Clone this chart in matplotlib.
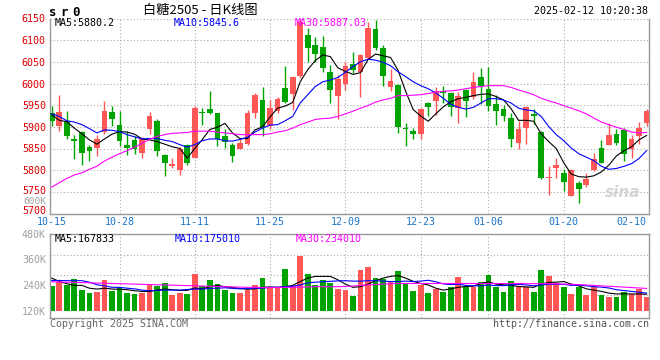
import numpy as np
import matplotlib
matplotlib.use("Agg")
import matplotlib.pyplot as plt
import matplotlib.transforms as mtrans

# ---- data (SR505) ----
date_labels = ["10-15", "10-28", "11-11", "11-25", "12-09", "12-23", "01-06", "01-20", "02-10"]
date_idx = [0, 9, 19, 29, 39, 49, 58, 68, 77]

opens = [5931, 5901, 5913, 5873, 5887, 5853, 5852, 5888, 5934, 5905,
         5857, 5870, 5839, 5896, 5913, 5836, 5809, 5800, 5859, 5827,
         5933, 5941, 5932, 5880, 5857, 5849, 5861, 5931, 5962, 5903,
         5936, 5989, 5975, 6017, 6111, 6089, 6084, 6026, 5972, 6000,
         6046, 6026, 6058, 6125, 6082, 5991, 5997, 5897, 5891, 5884,
         5955, 5959, 5983, 5978, 5943, 5985, 5969, 6014, 5988, 5952,
         5941, 5920, 5862, 5897, 5930, 5888, 5781, 5805, 5793, 5741,
         5771, 5766, 5800, 5851, 5859, 5884, 5893, 5848, 5878, 5910]
closes = [5913, 5934, 5878, 5867, 5839, 5844, 5871, 5937, 5919, 5868,
          5852, 5848, 5871, 5924, 5844, 5816, 5815, 5848, 5816, 5943,
          5932, 5931, 5873, 5864, 5832, 5863, 5933, 5974, 5900, 5943,
          5965, 5957, 6015, 6141, 6082, 6067, 6035, 5985, 6011, 6041,
          6031, 6066, 6127, 6082, 6018, 6006, 5899, 5894, 5884, 5942,
          5945, 5983, 5978, 5945, 5972, 5960, 6004, 5995, 5947, 5936,
          5926, 5872, 5894, 5946, 5926, 5781, 5784, 5811, 5773, 5800,
          5757, 5779, 5826, 5817, 5880, 5862, 5838, 5873, 5897, 5937]
highs = [5949, 5974, 5937, 5882, 5891, 5858, 5882, 5960, 5949, 5936,
         5891, 5878, 5877, 5934, 5919, 5838, 5828, 5853, 5861, 5949,
         5943, 5983, 5933, 5894, 5863, 5871, 5938, 5978, 5993, 5962,
         5970, 6041, 6018, 6150, 6127, 6108, 6110, 6043, 6020, 6050,
         6072, 6069, 6141, 6146, 6090, 6033, 5998, 5910, 5897, 5943,
         5957, 5991, 5995, 5980, 5980, 5988, 6027, 6035, 6039, 5974,
         5951, 5932, 5913, 5948, 5941, 5890, 5809, 5827, 5802, 5802,
         5775, 5794, 5840, 5870, 5909, 5894, 5897, 5882, 5911, 5942]
lows = [5901, 5891, 5871, 5825, 5812, 5822, 5832, 5884, 5901, 5855,
        5836, 5838, 5827, 5884, 5832, 5787, 5804, 5790, 5812, 5827,
        5905, 5930, 5855, 5851, 5819, 5848, 5859, 5920, 5878, 5894,
        5932, 5955, 5939, 6012, 6050, 6050, 6027, 5955, 5919, 5985,
        6024, 5970, 6056, 6077, 5995, 5983, 5885, 5855, 5871, 5873,
        5924, 5928, 5955, 5924, 5909, 5922, 5965, 5952, 5936, 5905,
        5913, 5853, 5848, 5861, 5907, 5779, 5743, 5781, 5752, 5741,
        5725, 5761, 5798, 5816, 5858, 5858, 5821, 5829, 5861, 5901]

ma5 = [5928, 5915, 5912, 5897, 5884, 5870, 5860, 5872, 5883, 5889,
       5888, 5883, 5872, 5870, 5866, 5860, 5854, 5850, 5828, 5850,
       5871, 5894, 5899, 5908, 5886, 5873, 5873, 5893, 5900, 5923,
       5943, 5948, 5956, 6004, 6032, 6053, 6066, 6062, 6036, 6028,
       6021, 6025, 6055, 6068, 6064, 6060, 6030, 5982, 5940, 5925,
       5913, 5930, 5946, 5958, 5965, 5968, 5972, 5975, 5976, 5970,
       5962, 5942, 5915, 5915, 5913, 5884, 5866, 5850, 5817, 5791,
       5785, 5784, 5787, 5796, 5812, 5833, 5845, 5854, 5870, 5880]
ma10 = [5930, 5924, 5914, 5911, 5905, 5896, 5886, 5893, 5892, 5889,
        5882, 5877, 5872, 5873, 5873, 5869, 5866, 5859, 5853, 5859,
        5868, 5872, 5872, 5868, 5867, 5871, 5876, 5888, 5897, 5904,
        5905, 5914, 5924, 5955, 5974, 5993, 6004, 6008, 6014, 6026,
        6039, 6050, 6056, 6054, 6049, 6041, 6027, 6016, 6004, 5995,
        5988, 5978, 5966, 5952, 5945, 5941, 5945, 5955, 5965, 5965,
        5962, 5955, 5943, 5939, 5937, 5924, 5901, 5882, 5868, 5851,
        5838, 5830, 5822, 5809, 5802, 5804, 5809, 5815, 5827, 5845]
ma30 = [5761, 5771, 5781, 5789, 5794, 5802, 5809, 5821, 5830, 5838,
        5845, 5853, 5862, 5871, 5878, 5882, 5885, 5886, 5887, 5890,
        5890, 5890, 5888, 5886, 5884, 5882, 5882, 5882, 5882, 5884,
        5888, 5891, 5897, 5905, 5911, 5917, 5919, 5920, 5924, 5930,
        5936, 5943, 5949, 5957, 5962, 5966, 5972, 5972, 5973, 5974,
        5977, 5980, 5982, 5983, 5985, 5988, 5991, 5993, 5995, 5995,
        5995, 5991, 5985, 5980, 5974, 5966, 5960, 5955, 5949, 5943,
        5937, 5930, 5920, 5911, 5905, 5899, 5894, 5888, 5886, 5887]

# volume in thousands
volumes = [236, 252, 241, 267, 218, 202, 208, 263, 213, 230,
           202, 198, 201, 244, 235, 249, 193, 202, 198, 292,
           233, 263, 244, 218, 202, 202, 218, 239, 272, 225,
           225, 314, 233, 374, 291, 239, 263, 249, 221, 215,
           188, 309, 323, 272, 267, 252, 304, 249, 211, 239,
           202, 221, 208, 230, 277, 229, 229, 253, 286, 230,
           207, 258, 230, 230, 207, 309, 283, 249, 230, 198,
           230, 193, 230, 193, 184, 184, 207, 198, 221, 185]
vol_ma5 = [272, 256, 246, 238, 238, 225, 221, 225, 221, 220,
           218, 213, 210, 210, 216, 221, 218, 215, 215, 226,
           222, 232, 238, 232, 228, 224, 220, 222, 229, 231,
           229, 232, 238, 256, 272, 280, 280, 280, 264, 244,
           229, 232, 244, 260, 272, 280, 284, 272, 257, 247,
           240, 225, 216, 222, 229, 233, 235, 247, 255, 244,
           241, 238, 233, 231, 229, 244, 252, 253, 256, 244,
           236, 222, 216, 210, 202, 198, 199, 198, 198, 197]
vol_ma10 = [261, 261, 260, 260, 260, 253, 241, 236, 229, 229,
            225, 222, 216, 213, 215, 216, 216, 216, 219, 221,
            221, 224, 225, 227, 224, 222, 224, 225, 225, 229,
            229, 232, 234, 240, 250, 253, 255, 257, 259, 260,
            258, 258, 260, 260, 258, 256, 256, 258, 256, 258,
            262, 255, 245, 242, 243, 238, 236, 236, 240, 237,
            237, 240, 243, 240, 236, 240, 243, 243, 243, 238,
            240, 236, 232, 230, 226, 218, 214, 210, 206, 202]
vol_ma30 = [255, 254, 253, 252, 251, 250, 249, 248, 247, 246,
            245, 244, 243, 242, 241, 240, 239, 238, 237, 236,
            235, 234, 233, 232, 231, 230, 229, 229, 228, 228,
            228, 229, 229, 230, 231, 232, 232, 232, 232, 233,
            235, 238, 240, 242, 244, 246, 247, 247, 247, 247,
            247, 247, 247, 247, 247, 247, 247, 247, 247, 247,
            247, 247, 247, 246, 246, 246, 246, 245, 244, 243,
            242, 240, 238, 236, 234, 232, 230, 228, 226, 224]

price_ticks = list(range(5700, 6151, 50))
vol_ticks = [120, 240, 360, 480]
VOL_BASE = 120  # bars in the sina panel start at the 120K line

RED = "#ff5656"
GREEN = "#00a400"
GRID = "#aaaaaa"
BORDER = "#999999"
MONO = "DejaVu Sans Mono"
FS = 7.2

W, H = 660, 360


def box(l, t, r, b):
    # pixel box -> figure fraction rect
    return [l / W, 1 - b / H, (r - l) / W, (b - t) / H]


def fxy(x, y):
    return x / W, 1 - y / H


x = np.arange(len(closes))
o = np.array(opens, float)
c = np.array(closes, float)
up = c >= o
colors = np.where(up, RED, GREEN)
xlim = (-0.23, 79.32)
dotted = dict(color=GRID, lw=0.8, linestyle=(0, (1, 2)), zorder=0)

fig = plt.figure(figsize=(6.6, 3.6), dpi=100)
fig.patch.set_facecolor("white")

# ---------- price panel ----------
ax = fig.add_axes(box(50, 18.5, 649, 213.5))
ax.set_xlim(*xlim)
ax.set_ylim(5700, 6150)
ax.vlines(x, lows, highs, colors=colors, lw=1.0, zorder=2)
body = np.maximum(np.abs(c - o), 1.8)
ax.bar(x, body, bottom=np.minimum(o, c), width=0.76, color=colors, linewidth=0, zorder=3)
ax.plot(x, ma5, color="black", lw=0.8, zorder=4)
ax.plot(x, ma10, color="#0000ff", lw=0.8, zorder=4)
ax.plot(x, ma30, color="#ff00ff", lw=0.8, zorder=4)

ax.set_yticks(price_ticks)
ax.set_yticklabels([str(v) for v in price_ticks], color="#e00000", family=MONO, fontsize=FS)
ax.set_xticks(date_idx)
ax.set_xticklabels(date_labels, color="#1a75c8", family=MONO, fontsize=FS)
ax.tick_params(length=0, pad=2.5)
ax.tick_params(axis="y", pad=3)
# lift the two bottom price labels a little: 600K and 10-15 crowd them
for lab, dy in zip(ax.get_yticklabels()[:2], [2.5, 1.5]):
    lab.set_transform(lab.get_transform() + mtrans.ScaledTranslation(0, dy / 72, fig.dpi_scale_trans))
for v in price_ticks[1:]:
    ax.axhline(v, **dotted)
for i in date_idx[1:-1]:
    ax.axvline(i, **dotted)
ax.spines["top"].set_visible(False)
for s in ["left", "right", "bottom"]:
    ax.spines[s].set_color(BORDER)
    ax.spines[s].set_linewidth(1.0)

ax.text(0.985, 0.07, "sina", transform=ax.transAxes, ha="right", va="bottom",
        fontsize=11, fontweight="bold", style="italic", color="#d4d4d4", zorder=1)

# ---------- volume panel ----------
axv = fig.add_axes(box(50, 233.5, 649, 318))
axv.set_xlim(*xlim)
axv.set_ylim(86, 480)
vol = np.array(volumes, float)
axv.bar(x, vol - VOL_BASE, bottom=VOL_BASE, width=0.76, color=colors, linewidth=0, zorder=2)
axv.plot(x, vol_ma5, color="black", lw=0.8, zorder=4)
axv.plot(x, vol_ma10, color="#0000ff", lw=0.8, zorder=4)
axv.plot(x, vol_ma30, color="#ff00ff", lw=0.8, zorder=4)
axv.set_yticks(vol_ticks)
axv.set_yticklabels([f"{v}K" for v in vol_ticks], color="#a0a0a0", family=MONO, fontsize=FS)
axv.set_xticks([])
axv.tick_params(length=0, pad=3)
for v in [192, 285, 378]:
    axv.axhline(v, **dotted)
for i in date_idx[1:-1]:
    axv.axvline(i, **dotted)
for s in axv.spines.values():
    s.set_color(BORDER)
    s.set_linewidth(1.0)
# the 600K label of the volume scale sits up between the bottom price labels
fig.text(*fxy(46.5, 201.5), "600K", ha="right", va="center",
         color="#a0a0a0", family=MONO, fontsize=6.8)

# ---------- texts ----------
for ch, cx in zip("sr0", [52.5, 63.5, 76]):
    fig.text(*fxy(cx, 12.5), ch, ha="center", va="center", family=MONO,
             fontsize=9, fontweight="bold")
fig.text(*fxy(200, 10.5), "白糖2505 - 日K线图", ha="center", va="center", fontsize=9.5,
         family=["Noto Sans CJK SC", "DejaVu Sans"])
fig.text(*fxy(648, 11), "2025-02-12 10:20:38", ha="right", va="center", family=MONO, fontsize=FS)

fig.text(*fxy(55, 23.5), "MA5:5880.2", va="center", family=MONO, fontsize=FS, color="black")
fig.text(*fxy(174, 23.5), "MA10:5845.6", va="center", family=MONO, fontsize=FS, color="#0000ff")
fig.text(*fxy(295, 23.5), "MA30:5887.03", va="center", family=MONO, fontsize=FS, color="#ff00ff")
fig.text(*fxy(55, 238.5), "MA5:167833", va="center", family=MONO, fontsize=FS, color="black")
fig.text(*fxy(175, 238.5), "MA10:175010", va="center", family=MONO, fontsize=FS, color="#0000ff")
fig.text(*fxy(296, 238.5), "MA30:234010", va="center", family=MONO, fontsize=FS, color="#ff00ff")

fig.text(*fxy(50, 324), "Copyright 2025 SINA.COM", va="center", family=MONO, fontsize=FS, color="#666666")
fig.text(*fxy(649, 324), "http://finance.sina.com.cn", ha="right", va="center", family=MONO,
         fontsize=FS, color="#555555")

fig.savefig("out.png", dpi=100)
